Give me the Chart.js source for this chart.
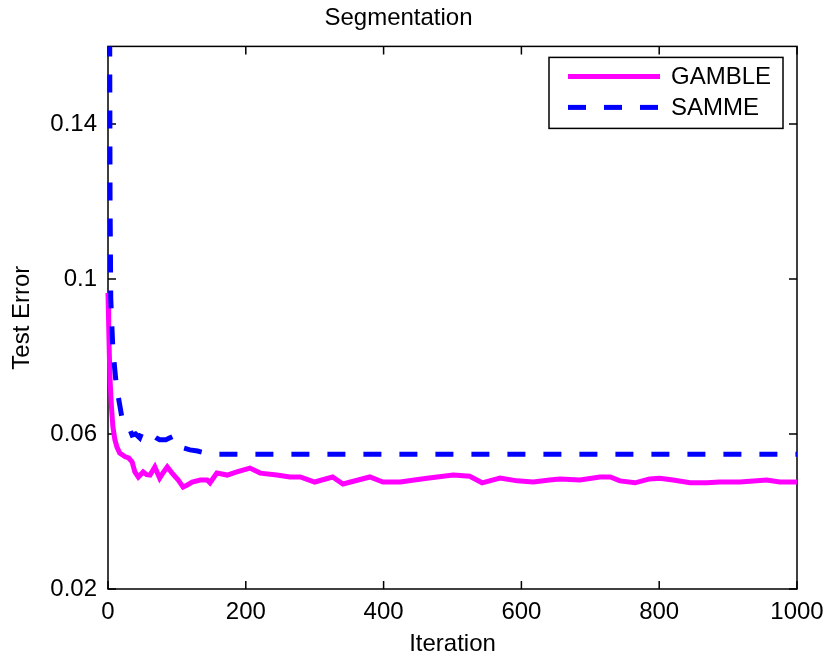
<!DOCTYPE html>
<html>
<head>
<meta charset="utf-8">
<script src="https://cdn.jsdelivr.net/npm/chart.js@4.4.0/dist/chart.umd.min.js"></script>
<style>
  html, body { margin: 0; padding: 0; background: #fff; }
  #wrap { width: 830px; height: 658px; }
</style>
</head>
<body>
<div id="wrap"><canvas id="chart" width="830" height="658"></canvas></div>
<script>
const seriesNames = ["GAMBLE", "SAMME"];

const gambleIter = [0, 1, 2, 3, 5, 7, 10, 13, 17, 25, 30, 35, 39, 44, 51, 56, 61, 68, 75, 80, 86, 93,
  102, 109, 115, 122, 134, 144, 148, 158, 173, 187, 206, 221, 245, 264, 279, 300, 326, 341, 380,
  399, 424, 463, 501, 525, 543, 569, 594, 617, 641, 656, 685, 714, 729, 743, 765, 786, 801, 820,
  845, 869, 888, 917, 956, 975, 1000];
const gambleErr = [0.0964, 0.088, 0.080, 0.074, 0.067, 0.062, 0.0585, 0.0566, 0.0551, 0.0541, 0.0538,
  0.0528, 0.0502, 0.0489, 0.0502, 0.0495, 0.0494, 0.0515, 0.0486, 0.0500, 0.0515, 0.0499,
  0.0481, 0.0463, 0.0468, 0.0476, 0.0481, 0.0481, 0.0474, 0.0499, 0.0494, 0.0502, 0.0512, 0.0499,
  0.0494, 0.0489, 0.0489, 0.0476, 0.0489, 0.0471, 0.0489, 0.0476, 0.0476, 0.0486, 0.0494, 0.0491,
  0.0474, 0.0486, 0.0479, 0.0476, 0.0481, 0.0484, 0.0481, 0.0489, 0.0489, 0.0479, 0.0474, 0.0484,
  0.0486, 0.0481, 0.0474, 0.0474, 0.0476, 0.0476, 0.0481, 0.0476, 0.0476];

const sammeIter = [0, 2, 3, 4, 7, 12, 17, 20, 23, 28, 32, 35, 40, 46, 50, 54, 59, 64, 70, 75, 84,
  90, 96, 102, 109, 119, 130, 141, 148, 1000];
const sammeErr = [0.45, 0.20, 0.12, 0.095, 0.082, 0.0726, 0.0675, 0.0644, 0.0631, 0.0620, 0.0610,
  0.0597, 0.0600, 0.0590, 0.0608, 0.0603, 0.0600, 0.0597, 0.0590, 0.0585, 0.0585, 0.0590, 0.0595,
  0.0580, 0.0564, 0.0559, 0.0556, 0.0551, 0.0548, 0.0548];

const xTicks = [0, 200, 400, 600, 800, 1000];
const yTicks = [0.02, 0.06, 0.1, 0.14];

const FONT = "'Liberation Sans', Arial, Helvetica, sans-serif";

function toPoints(xs, ys) {
  return xs.map((x, i) => ({ x: x, y: ys[i] }));
}

// axes box with inward ticks, like matlab
const boxPlugin = {
  id: "box",
  beforeDatasetsDraw(chart) {
    const { ctx, chartArea: a, scales } = chart;
    ctx.save();
    ctx.strokeStyle = "#000";
    ctx.lineWidth = 1.5;
    ctx.strokeRect(a.left, a.top, a.right - a.left, a.bottom - a.top);
    const len = 8;
    ctx.beginPath();
    xTicks.forEach(v => {
      const px = scales.x.getPixelForValue(v);
      ctx.moveTo(px, a.bottom); ctx.lineTo(px, a.bottom - len);
      ctx.moveTo(px, a.top); ctx.lineTo(px, a.top + len);
    });
    yTicks.forEach(v => {
      const py = scales.y.getPixelForValue(v);
      ctx.moveTo(a.left, py); ctx.lineTo(a.left + len, py);
      ctx.moveTo(a.right, py); ctx.lineTo(a.right - len, py);
    });
    ctx.stroke();
    ctx.restore();
  }
};

// legend box in the top right corner
const legendPlugin = {
  id: "boxLegend",
  afterDraw(chart) {
    const { ctx, chartArea: a } = chart;
    const x0 = a.right - 248, y0 = a.top + 11, w = 234, h = 71;
    ctx.save();
    ctx.fillStyle = "#fff";
    ctx.fillRect(x0, y0, w, h);
    ctx.strokeStyle = "#000";
    ctx.lineWidth = 1.5;
    ctx.strokeRect(x0, y0, w, h);
    chart.data.datasets.forEach((ds, i) => {
      const y = y0 + 19 + i * 31;
      ctx.beginPath();
      ctx.strokeStyle = ds.borderColor;
      ctx.lineWidth = ds.borderWidth;
      ctx.setLineDash(ds.borderDash || []);
      ctx.moveTo(x0 + 19, y);
      ctx.lineTo(x0 + 111, y);
      ctx.stroke();
      ctx.setLineDash([]);
      ctx.fillStyle = "#000";
      ctx.font = "24px " + FONT;
      ctx.textBaseline = "middle";
      ctx.fillText(ds.label, x0 + 122, y + 1);
    });
    ctx.restore();
  }
};

new Chart(document.getElementById("chart"), {
  type: "line",
  data: {
    datasets: [
      {
        label: seriesNames[0],
        data: toPoints(gambleIter, gambleErr),
        borderColor: "#ff00ff",
        borderWidth: 5,
        pointRadius: 0,
        tension: 0,
        order: 2,
        clip: { left: 3, top: 0, right: 0, bottom: 0 }
      },
      {
        label: seriesNames[1],
        data: toPoints(sammeIter, sammeErr),
        borderColor: "#0000ff",
        borderWidth: 5,
        borderDash: [18, 18],
        borderCapStyle: "butt",
        pointRadius: 0,
        tension: 0,
        order: 1,
        clip: { left: 3, top: 0, right: 0, bottom: 0 }
      }
    ]
  },
  options: {
    responsive: false,
    animation: false,
    events: [],
    layout: { padding: { left: 0, right: 33, top: 0, bottom: 0 } },
    plugins: {
      legend: { display: false },
      tooltip: { enabled: false },
      title: {
        display: true,
        text: "Segmentation",
        color: "#000",
        font: { family: FONT, size: 24, weight: "normal", lineHeight: 1.1 },
        padding: { top: 5, bottom: 15 }
      }
    },
    scales: {
      x: {
        type: "linear",
        min: 0,
        max: 1000,
        afterBuildTicks: s => { s.ticks = xTicks.map(v => ({ value: v })); },
        afterFit: s => { s.height = 69; s.paddingLeft = 0; s.paddingRight = 0; },
        grid: { display: false, drawTicks: false },
        border: { display: false },
        ticks: {
          color: "#000",
          padding: 9,
          font: { family: FONT, size: 24 },
          callback: v => String(v)
        },
        title: {
          display: true,
          text: "Iteration",
          color: "#000",
          font: { family: FONT, size: 24, lineHeight: 1.1 },
          padding: { top: 0, bottom: 0 }
        }
      },
      y: {
        type: "linear",
        min: 0.02,
        max: 0.16,
        afterBuildTicks: s => { s.ticks = yTicks.map(v => ({ value: v })); },
        afterFit: s => { s.width = 108; },
        grid: { display: false, drawTicks: false },
        border: { display: false },
        ticks: {
          color: "#000",
          padding: 11,
          font: { family: FONT, size: 24 },
          callback: v => String(Number(v.toFixed(2)))
        },
        title: {
          display: true,
          text: "Test Error",
          color: "#000",
          font: { family: FONT, size: 24, lineHeight: 1.1 },
          padding: { top: 9, bottom: 0 }
        }
      }
    }
  },
  plugins: [boxPlugin, legendPlugin]
});
</script>
</body>
</html>
